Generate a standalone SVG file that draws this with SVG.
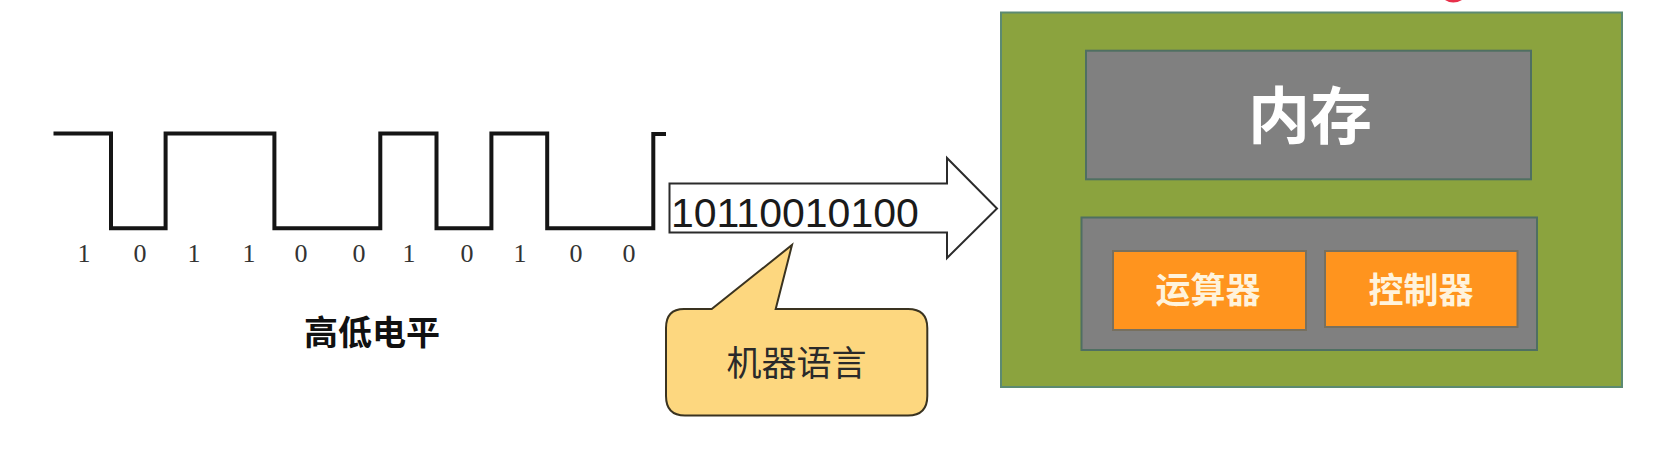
<svg xmlns="http://www.w3.org/2000/svg" width="1671" height="473" viewBox="0 0 1671 473">
<style>
.cjk{font-family:"Liberation Sans","Noto Sans CJK SC",sans-serif;text-anchor:middle}
.bit{font-family:"Liberation Serif",serif;font-size:26px;fill:#333;text-anchor:middle}
.inner{fill:#808080;stroke:#4f6f62;stroke-width:2}
.alu{fill:#ff941e;stroke:#77705f;stroke-width:2}
.lab{font-size:35px;font-weight:700;fill:#fff3dc}
</style>
<rect width="1671" height="473" fill="#ffffff"/>
<g id="connectors">
<path id="arrow" d="M669.5 183.5H947V158L997 208.500L947 258V232.500H669.5Z" fill="#fff" stroke="#2b2b2b" stroke-width="2"/>
</g>
<g id="waveform">
<path d="M53.500 133.500H111V228.300H165.600V133.500H274.400V228.300H380.300V133.500H436.500V228.300H491.400V133.500H547.200V228.300H653.300V134H666" fill="none" stroke="#151515" stroke-width="4"/>
<g>
<text class="bit" x="84" y="262">1</text><text class="bit" x="140" y="262">0</text><text class="bit" x="194" y="262">1</text><text class="bit" x="249" y="262">1</text><text class="bit" x="301" y="262">0</text><text class="bit" x="359" y="262">0</text><text class="bit" x="409" y="262">1</text><text class="bit" x="467" y="262">0</text><text class="bit" x="520" y="262">1</text><text class="bit" x="576" y="262">0</text><text class="bit" x="629" y="262">0</text>
</g>
<text class="cjk" x="372" y="345" font-size="34" font-weight="700" fill="#111">高低电平</text>
</g>
<g id="binary-label">
<text x="671" y="226.500" font-family="Liberation Sans,sans-serif" font-size="41" fill="#1a1a1a">10110010100</text>
</g>
<g id="callout">
<path d="M684 309H711.700L792 245L775.700 309H908Q927.300 309 927.300 328V396Q927.300 415.500 908 415.500H685Q666 415.500 666 396V328Q666 309 684 309Z" fill="#fdd77f" stroke="#3a3320" stroke-width="2"/>
<text class="cjk" x="796.500" y="376" font-size="35" fill="#2a2a2a">机器语言</text>
</g>
<g id="computer">
<rect x="1001" y="12.500" width="621" height="374.500" fill="#8ba33e" stroke="#5c8a72" stroke-width="2"/>
</g>
<g id="memory">
<rect class="inner" x="1086" y="50.700" width="445" height="128.600"/>
<text class="cjk" x="1310" y="139" font-size="62" font-weight="700" fill="#fff">内存</text>
</g>
<g id="cpu">
<rect class="inner" x="1081.500" y="217.500" width="455.500" height="132.500"/>
</g>
<g id="alu">
<rect class="alu" x="1113" y="251" width="193" height="79"/>
<text class="cjk lab" x="1208" y="303">运算器</text>
</g>
<g id="control">
<rect class="alu" x="1325" y="251" width="192.500" height="76"/>
<text class="cjk lab" x="1421" y="303">控制器</text>
</g>
<path d="M1445 0Q1453 5 1462 0Z" fill="#e8304a"/>
</svg>
